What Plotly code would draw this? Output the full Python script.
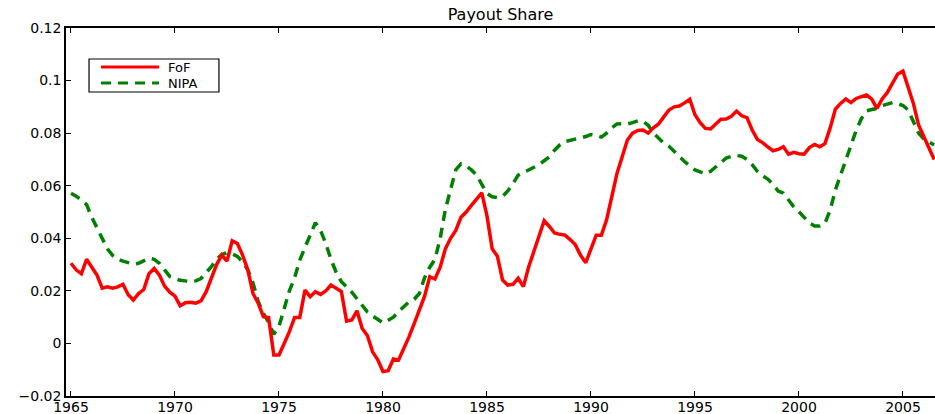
import plotly.graph_objects as go

start_year = 1965.0
fof = [
    0.0305, 0.028, 0.0265, 0.032,
    0.029, 0.026, 0.021, 0.0215,
    0.021, 0.0215, 0.0225, 0.0185,
    0.0165, 0.019, 0.0205, 0.0265,
    0.0285, 0.026, 0.0218, 0.0195,
    0.018, 0.0143, 0.0155, 0.0157,
    0.0153, 0.0162, 0.0197, 0.025,
    0.030, 0.0336, 0.0313, 0.039,
    0.038, 0.0336, 0.028, 0.019,
    0.0153, 0.0102, 0.0099, -0.0044,
    -0.0044, 0.000, 0.0045, 0.0099,
    0.0099, 0.0203, 0.0178, 0.0197,
    0.0186, 0.020, 0.0222, 0.021,
    0.0197, 0.0085, 0.0089, 0.0124,
    0.0057, 0.0030, -0.0032, -0.0062,
    -0.0107, -0.0104, -0.0059, -0.0063,
    -0.002, 0.0025, 0.0075, 0.0125,
    0.018, 0.0254, 0.0245, 0.029,
    0.036, 0.040, 0.043, 0.048,
    0.050, 0.0525, 0.055, 0.0573,
    0.0485, 0.036, 0.0332, 0.0241,
    0.0222, 0.0225, 0.0248, 0.0216,
    0.029, 0.035, 0.040, 0.0467,
    0.0445, 0.042, 0.0415, 0.0412,
    0.0395, 0.0375, 0.0335, 0.0307,
    0.036, 0.0412, 0.0412, 0.047,
    0.0558, 0.0647, 0.071, 0.0774,
    0.080, 0.081, 0.0812, 0.080,
    0.082, 0.0835, 0.0862, 0.0888,
    0.090, 0.0903, 0.0915, 0.0929,
    0.087, 0.084, 0.0818, 0.0816,
    0.0835, 0.0853, 0.0854, 0.0864,
    0.0884, 0.0866, 0.0859, 0.0812,
    0.0776, 0.0764, 0.0748, 0.0733,
    0.0738, 0.0748, 0.072, 0.0727,
    0.0722, 0.072, 0.0745, 0.0757,
    0.0748, 0.076, 0.082, 0.0891,
    0.0913, 0.093, 0.0916, 0.0932,
    0.0939, 0.0945, 0.0929, 0.0894,
    0.093, 0.0955, 0.099, 0.1025,
    0.1036, 0.0977, 0.0913, 0.0831,
    0.0786, 0.0748, 0.070,
]
nipa = [
    0.0571, 0.056, 0.0545, 0.0528,
    0.048, 0.044, 0.0395, 0.036,
    0.0335, 0.032, 0.0313, 0.0308,
    0.0302, 0.0305, 0.0313, 0.0324,
    0.032, 0.0305, 0.028, 0.0255,
    0.0248, 0.024, 0.0238, 0.0235,
    0.0238, 0.0247, 0.027, 0.0292,
    0.032, 0.0338, 0.0345, 0.034,
    0.0331, 0.031, 0.028, 0.023,
    0.016, 0.0115, 0.008, 0.0035,
    0.0065, 0.013, 0.020, 0.025,
    0.0317, 0.0365, 0.0415, 0.0459,
    0.043, 0.038, 0.032, 0.027,
    0.0235, 0.0215, 0.0195, 0.017,
    0.0143, 0.012, 0.0105, 0.009,
    0.0078, 0.0088, 0.010, 0.0121,
    0.014, 0.0158, 0.0168, 0.019,
    0.025, 0.029, 0.032, 0.040,
    0.051, 0.059, 0.066, 0.0683,
    0.0675, 0.066, 0.0641, 0.0605,
    0.057, 0.0558, 0.0555, 0.056,
    0.058, 0.0608, 0.064, 0.065,
    0.066, 0.067, 0.068, 0.0695,
    0.071, 0.0735, 0.0755, 0.0768,
    0.0773, 0.0776, 0.078, 0.0787,
    0.0795, 0.0792, 0.0785, 0.080,
    0.082, 0.0835, 0.0836, 0.0835,
    0.084, 0.0847, 0.0845, 0.083,
    0.080, 0.078, 0.0762, 0.075,
    0.073, 0.071, 0.0692, 0.0675,
    0.066, 0.0653, 0.0645, 0.0655,
    0.0672, 0.069, 0.0705, 0.0712,
    0.0715, 0.0712, 0.070, 0.068,
    0.0655, 0.0638, 0.0625, 0.0605,
    0.058, 0.0572, 0.0545, 0.052,
    0.0501, 0.048, 0.0458, 0.0447,
    0.0447, 0.0457, 0.0507, 0.0584,
    0.064, 0.069, 0.075, 0.081,
    0.0855, 0.0885, 0.089, 0.0894,
    0.0905, 0.0912, 0.0916, 0.0912,
    0.0905, 0.0888, 0.0845, 0.080,
    0.0778, 0.0768, 0.0755,
]
x_ticks = [1965, 1970, 1975, 1980, 1985, 1990, 1995, 2000, 2005]
y_ticks = [-0.02, 0, 0.02, 0.04, 0.06, 0.08, 0.1, 0.12]
y_tick_labels = ["\u22120.02", "0", "0.02", "0.04", "0.06", "0.08", "0.1", "0.12"]

quarters = [start_year + i / 4 for i in range(len(fof))]

RED = "#ff0000"
GREEN = "#008000"
FONT = "DejaVu Sans"
DASH = "10px,7px"

fig = go.Figure()
fig.add_trace(go.Scatter(x=quarters, y=nipa, mode="lines", name="NIPA",
                         line=dict(color=GREEN, width=3.5, dash=DASH)))
fig.add_trace(go.Scatter(x=quarters, y=fof, mode="lines", name="FoF",
                         line=dict(color=RED, width=3.5)))

# legend (drawn manually to match box size)
L, R_, T, B = 0.0265, 0.1760, 0.9158, 0.8261
fig.add_shape(type="rect", xref="paper", yref="paper", x0=L, x1=R_, y0=B, y1=T,
              line=dict(color="black", width=1.2), fillcolor="white", layer="above")
fig.add_shape(type="line", xref="paper", yref="paper", x0=0.0403, x1=0.1070,
              y0=0.8940, y1=0.8940, line=dict(color=RED, width=3), layer="above")
fig.add_shape(type="line", xref="paper", yref="paper", x0=0.0403, x1=0.1070,
              y0=0.8505, y1=0.8505, line=dict(color=GREEN, width=3, dash=DASH), layer="above")
fig.add_annotation(xref="paper", yref="paper", x=0.1150, y=0.8940, text="FoF",
                   showarrow=False, xanchor="left", yanchor="middle",
                   font=dict(family=FONT, size=13, color="black"))
fig.add_annotation(xref="paper", yref="paper", x=0.1150, y=0.8505, text="NIPA",
                   showarrow=False, xanchor="left", yanchor="middle",
                   font=dict(family=FONT, size=13, color="black"))

fig.update_layout(
    width=935, height=414,
    margin=dict(l=66, r=0, t=28, b=18, autoexpand=False),
    paper_bgcolor="white", plot_bgcolor="white",
    showlegend=False,
    font=dict(family=FONT, size=14, color="black"),
    title=dict(text="Payout Share", x=0.5, xref="paper", xanchor="center",
               y=1 - 14 / 414, yanchor="middle", font=dict(family=FONT, size=16)),
)
fig.update_xaxes(range=[1964.76, 2006.54], tickvals=x_ticks, ticks="inside",
                 ticklen=5, tickcolor="black", showline=True, linecolor="black",
                 linewidth=1.5, mirror="ticks", showgrid=False, zeroline=False,
                 automargin=False, ticklabelstandoff=-3,
                 tickfont=dict(family=FONT, size=14))
fig.update_yaxes(range=[-0.02, 0.12], tickvals=y_ticks, ticktext=y_tick_labels,
                 ticks="inside", ticklen=5, tickcolor="black", showline=True,
                 linecolor="black", linewidth=1.5, showgrid=False, zeroline=False,
                 automargin=False, tickfont=dict(family=FONT, size=14))

fig.write_html(
    "out.html",
    config={"displayModeBar": False},
    post_script="document.documentElement.style.margin='0';"
                "document.body.style.margin='0';document.body.style.padding='0';"
                "document.body.style.overflow='hidden';",
)
